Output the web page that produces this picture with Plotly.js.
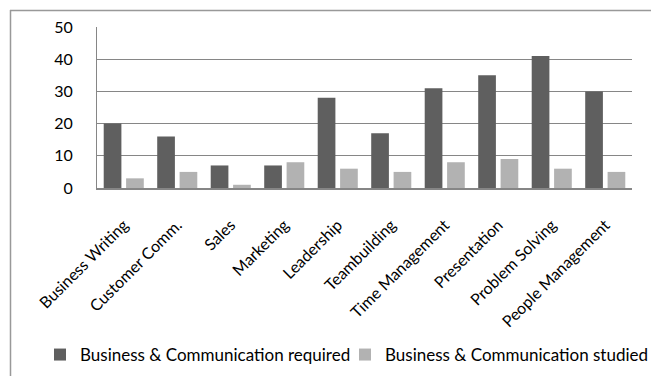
<!DOCTYPE html>
<html>
<head>
<meta charset="utf-8">
<script src="https://cdn.plot.ly/plotly-3.0.1.min.js"></script>
<style>html,body{margin:0;padding:0;background:#fff;}#chart{width:651px;height:376px;}</style>
</head>
<body>
<div id="chart"></div>
<script>
const categories = ["Business Writing", "Customer Comm.", "Sales", "Marketing", "Leadership", "Teambuilding", "Time Management", "Presentation", "Problem Solving", "People Management"];
const requiredValues = [20, 16, 7, 7, 28, 17, 31, 35, 41, 30];
const studiedValues = [3, 5, 1, 8, 6, 5, 8, 9, 6, 5];
const seriesNames = ["Business & Communication required", "Business & Communication studied"];
const yTicks = [0, 10, 20, 30, 40, 50];

const W = 651, H = 376;
const M = {l: 97, r: 19, t: 27, b: 188, autoexpand: false};
const pw = W - M.l - M.r, ph = H - M.t - M.b;
const px = x => (x - M.l) / pw;
const py = y => (H - M.b - y) / ph;

const traces = [
  {type: 'bar', x: categories, y: requiredValues, name: seriesNames[0], marker: {color: '#5f5f5f'}, legend: 'legend'},
  {type: 'bar', x: categories, y: studiedValues, name: seriesNames[1], marker: {color: '#b2b2b2'}, legend: 'legend2'}
];

const legendCommon = {orientation: 'h', xanchor: 'left', yanchor: 'middle', font: {size: 17, color: '#000'},
                      itemwidth: 30, bgcolor: 'rgba(0,0,0,0)', borderwidth: 0};

const layout = {
  width: W, height: H,
  margin: M,
  paper_bgcolor: '#fff', plot_bgcolor: '#fff',
  font: {family: 'Lato, sans-serif', color: '#000', size: 17},
  barmode: 'group', bargap: 0.163, bargroupgap: 0.21,
  showlegend: true,
  legend: Object.assign({}, legendCommon, {x: px(40), y: py(355)}),
  legend2: Object.assign({}, legendCommon, {x: px(345), y: py(355)}),
  xaxis: {type: 'category', tickangle: -45, tickfont: {size: 16}, showline: true, linecolor: '#868686', linewidth: 1.5,
          ticks: '', ticklabelstandoff: 20, showgrid: false, fixedrange: true, automargin: false},
  yaxis: {range: [0, 50], tickvals: yTicks, ticktext: yTicks.map(String), showgrid: true, gridcolor: '#868686', gridwidth: 1,
          showline: true, linecolor: '#868686', linewidth: 1, ticks: '', ticklabelstandoff: 20, zeroline: false,
          tickfont: {size: 16}, fixedrange: true, automargin: false},
  shapes: [
    {type: 'line', xref: 'paper', yref: 'paper', x0: px(10), x1: px(651), y0: py(10.5), y1: py(10.5), line: {color: '#999', width: 1.5}},
    {type: 'line', xref: 'paper', yref: 'paper', x0: px(10.5), x1: px(10.5), y0: py(10), y1: py(376), line: {color: '#999', width: 1.5}}
  ]
};

Plotly.newPlot('chart', traces, layout, {displayModeBar: false, staticPlot: true});
</script>
</body>
</html>
